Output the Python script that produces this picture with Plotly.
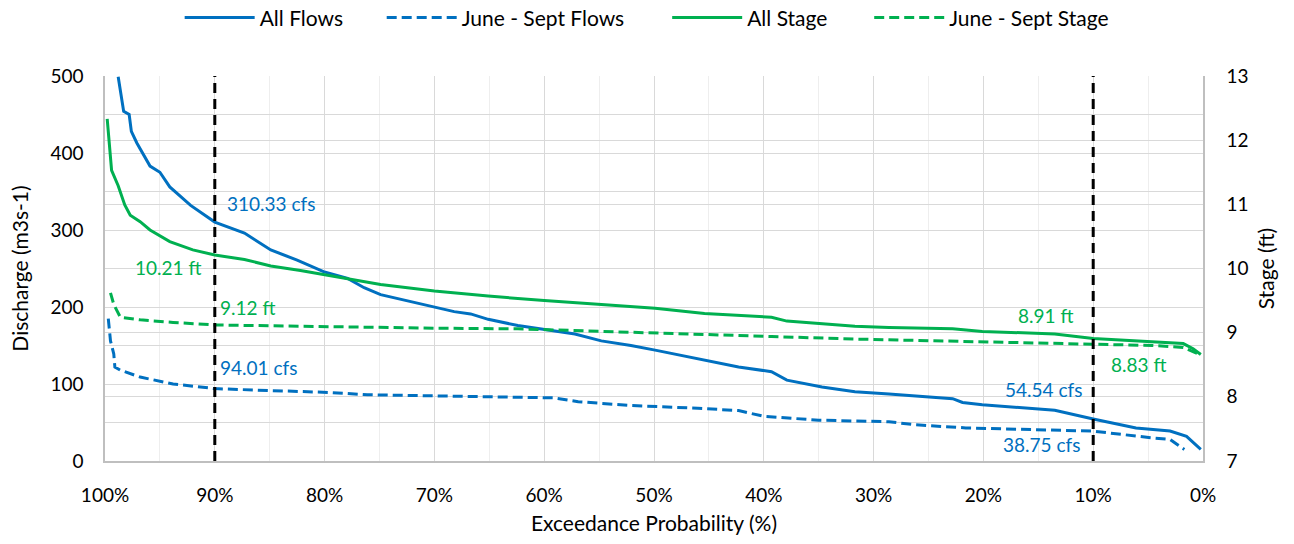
import plotly.graph_objects as go

# Exceedance probability (%) and values
all_flows_p = [98.8, 98.3, 97.8, 97.6, 97.1, 95.9, 95.0, 94.1, 92.2, 90.0, 87.3, 84.9, 82.5, 80.1,
               77.9, 76.4, 74.9, 73.1, 70.0, 68.2, 66.7, 65.1, 62.4, 60.0, 57.2, 54.8, 52.1, 49.9,
               48.1, 45.4, 42.3, 39.3, 37.9, 34.7, 31.7, 28.6, 25.6, 22.8, 21.9, 20.1, 13.5, 10.0,
               6.1, 3.0, 1.5, 0.9, 0.2]
all_flows_q = [499, 454, 450, 428, 413, 383, 375, 356, 332, 310.33, 296, 274, 261, 246,
               237, 225, 216, 210, 199, 194, 191, 184, 176, 171, 165, 156, 150, 144,
               139, 131, 122, 116, 105, 96, 90, 87, 84, 81, 76, 73, 66, 54.54,
               43, 39, 32, 24, 15]

js_flows_p = [99.7, 99.5, 99.2, 99.1, 98.6, 96.8, 93.8, 90.0, 86.1, 79.5, 76.1, 67.3, 59.2, 56.9,
              52.0, 46.0, 42.3, 40.0, 35.0, 28.6, 26.2, 21.6, 12.5, 10.0, 4.6, 3.0, 1.7]
js_flows_q = [185, 156, 139, 122, 118, 109, 100, 94.01, 92, 89, 86, 84, 82, 77,
              72, 68.5, 65.5, 58, 53, 51, 47, 43, 40, 38.75, 30, 28, 15]

all_stage_p = [99.8, 99.4, 98.8, 98.2, 97.7, 96.8, 95.9, 94.1, 92.0, 90.0, 87.3, 84.9, 82.2, 77.9,
               74.9, 70.0, 65.1, 60.0, 54.8, 52.1, 49.9, 45.4, 39.3, 37.9, 31.7, 28.6, 22.8, 20.1,
               13.5, 10.0, 4.6, 1.8, 0.9, 0.2]
all_stage_h = [12.33, 11.53, 11.29, 10.99, 10.83, 10.73, 10.60, 10.42, 10.29, 10.21, 10.14, 10.04, 9.97, 9.84,
               9.75, 9.65, 9.57, 9.50, 9.44, 9.41, 9.38, 9.30, 9.24, 9.18, 9.10, 9.08, 9.06, 9.02,
               8.98, 8.91, 8.85, 8.83, 8.75, 8.66]

js_stage_p = [99.5, 99.2, 98.6, 96.8, 93.8, 90.0, 86.1, 79.5, 70.0, 62.4, 52.1, 45.4, 39.3, 31.7,
              22.8, 10.0, 4.6, 1.8, 0.9, 0.2]
js_stage_h = [9.62, 9.44, 9.24, 9.20, 9.16, 9.12, 9.11, 9.09, 9.07, 9.06, 9.01, 8.98, 8.94, 8.90,
              8.87, 8.83, 8.80, 8.77, 8.70, 8.65]

ref_lines = [90, 10]

series_names = ["All Flows", "June - Sept Flows", "All Stage", "June - Sept Stage"]

# annotations: text, x (%), y (left-axis units), anchor, color
labels = [
    ("310.33 cfs", 89.1, 334, "left", "#0070C0"),
    ("10.21 ft", 91.1, 251, "right", "#00B050"),
    ("9.12 ft", 89.7, 200, "left", "#00B050"),
    ("94.01 cfs", 89.7, 121, "left", "#0070C0"),
    ("8.91 ft", 11.7, 189, "right", "#00B050"),
    ("8.83 ft", 8.6, 125, "left", "#00B050"),
    ("54.54 cfs", 10.8, 93, "right", "#0070C0"),
    ("38.75 cfs", 11.0, 21, "right", "#0070C0"),
]

BLUE = "#0070C0"
GREEN = "#00B050"
FONT = "Lato"
DASH = "10px,5px"

# separate legends so each entry sits where the reference has it
legend_x = [0.068, 0.252, 0.512, 0.696]

fig = go.Figure()
fig.add_trace(go.Scatter(x=all_flows_p, y=all_flows_q, name=series_names[0], mode="lines",
                         line=dict(color=BLUE, width=3), legend="legend"))
fig.add_trace(go.Scatter(x=js_flows_p, y=js_flows_q, name=series_names[1], mode="lines",
                         line=dict(color=BLUE, width=3, dash=DASH), legend="legend2"))
fig.add_trace(go.Scatter(x=all_stage_p, y=all_stage_h, name=series_names[2], mode="lines",
                         line=dict(color=GREEN, width=3), yaxis="y2", legend="legend3"))
fig.add_trace(go.Scatter(x=js_stage_p, y=js_stage_h, name=series_names[3], mode="lines",
                         line=dict(color=GREEN, width=3, dash=DASH), yaxis="y2", legend="legend4"))

for xv in ref_lines:
    fig.add_shape(type="line", xref="x", yref="paper", x0=xv, x1=xv, y0=0, y1=1,
                  line=dict(color="black", width=3, dash="10px,6px"), layer="above")

for txt, xv, yv, anc, col in labels:
    fig.add_annotation(text=txt, x=xv, y=yv, xref="x", yref="y", xanchor=anc, yanchor="middle",
                       showarrow=False, font=dict(family=FONT, size=19, color=col))

grid_major = "#D9D9D9"
grid_minor = "#EEEEEE"


def legend_cfg(xp):
    return dict(orientation="h", x=xp, xanchor="left", xref="paper",
                y=0.967, yanchor="middle", yref="container",
                font=dict(family=FONT, size=21, color="black"), itemwidth=70,
                bgcolor="rgba(0,0,0,0)")


fig.update_layout(
    width=1294, height=544,
    margin=dict(l=105, r=91, t=76, b=79),
    paper_bgcolor="white", plot_bgcolor="white",
    font=dict(family=FONT, size=19, color="black"),
    showlegend=True,
    legend=legend_cfg(legend_x[0]),
    legend2=legend_cfg(legend_x[1]),
    legend3=legend_cfg(legend_x[2]),
    legend4=legend_cfg(legend_x[3]),
    xaxis=dict(range=[100, 0], dtick=10, ticksuffix="%", showgrid=True, gridcolor=grid_major,
               gridwidth=1, minor=dict(dtick=5, showgrid=True, gridcolor=grid_minor),
               showline=True, linecolor="#BFBFBF", linewidth=1.5, zeroline=False, ticks="",
               ticklabelstandoff=16,
               title=dict(text="Exceedance Probability (%)", standoff=12, font=dict(size=21))),
    yaxis=dict(range=[0, 500], dtick=100, showgrid=True, gridcolor=grid_major,
               minor=dict(dtick=50, showgrid=True, gridcolor=grid_major),
               showline=True, linecolor="#BFBFBF", linewidth=1.5, zeroline=False, ticks="",
               ticklabelstandoff=16,
               title=dict(text="Discharge (m3s-1)", standoff=16, font=dict(size=21))),
    yaxis2=dict(range=[7, 13], dtick=1, overlaying="y", side="right", showgrid=True,
                gridcolor=grid_major, showline=True, linecolor="#BFBFBF", linewidth=1.5,
                zeroline=False, ticks="", ticklabelstandoff=18,
                title=dict(text="Stage (ft)", standoff=12, font=dict(size=21))),
)

fig.write_html("out.html", config={"displayModeBar": False},
               post_script="document.body.style.margin='0';document.body.style.overflow='hidden';")
